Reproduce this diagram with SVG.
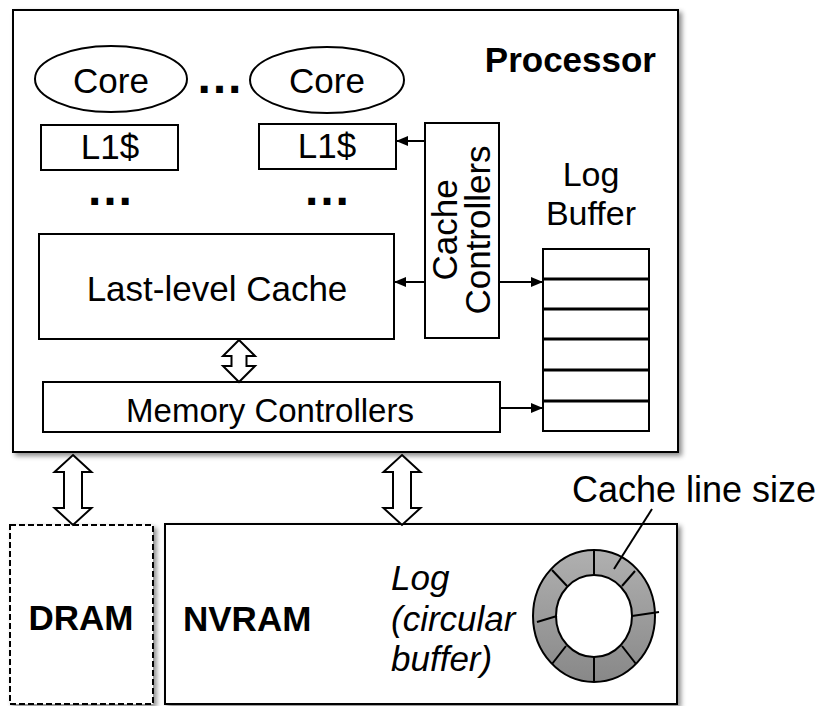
<svg xmlns="http://www.w3.org/2000/svg" width="823" height="706" viewBox="0 0 823 706">
  <defs>
    <filter id="shadow" x="-5%" y="-5%" width="115%" height="115%">
      <feDropShadow dx="3" dy="3" stdDeviation="2.5" flood-color="#000" flood-opacity="0.45"/>
    </filter>
    <marker id="head" viewBox="0 0 12 10" refX="12" refY="5" markerWidth="12" markerHeight="10" markerUnits="userSpaceOnUse" orient="auto">
      <path d="M0,0 L12,5 L0,10 Z" fill="#000"/>
    </marker>
    <linearGradient id="ringFill" x1="0" y1="0" x2="0" y2="1">
      <stop offset="0" stop-color="#b0b0b0"/>
      <stop offset="1" stop-color="#888888"/>
    </linearGradient>
    <style>
      .box { fill: #fff; stroke: #000; stroke-width: 2; }
      .t { font-family: "Liberation Sans", Arial, sans-serif; fill: #000; }
      .c { text-anchor: middle; }
      .b { font-weight: bold; }
      .i { font-style: italic; }
      .link { stroke: #000; stroke-width: 2; fill: none; marker-end: url(#head); }
      .bus { fill: #fff; stroke: #000; stroke-width: 2; stroke-linejoin: miter; }
      .row { stroke: #000; stroke-width: 3; }
      .seg { stroke: #000; stroke-width: 2; }
    </style>
  </defs>

  <!-- processor package -->
  <g id="processor">
    <rect class="box" x="13" y="10" width="665" height="442" filter="url(#shadow)"/>
    <text class="t b" x="656" y="72" font-size="35" text-anchor="end">Processor</text>
  </g>

  <g id="core1">
    <ellipse class="box" cx="111" cy="79" rx="76" ry="33"/>
    <text class="t c" x="111" y="93" font-size="35">Core</text>
  </g>
  <g id="core-dots">
    <text class="t b c" x="219.5" y="93" font-size="48">…</text>
  </g>
  <g id="core2">
    <ellipse class="box" cx="327" cy="80" rx="77" ry="33"/>
    <text class="t c" x="327" y="93" font-size="35">Core</text>
  </g>

  <g id="l1-1">
    <rect class="box" x="41" y="125" width="137" height="45"/>
    <text class="t c" x="110" y="159" font-size="35">L1$</text>
  </g>
  <g id="l1-2">
    <rect class="box" x="259" y="124" width="137" height="45"/>
    <text class="t c" x="327" y="158" font-size="35">L1$</text>
  </g>
  <g id="level-dots">
    <text class="t b c" x="110" y="205" font-size="48">…</text>
    <text class="t b c" x="327" y="205" font-size="48">…</text>
  </g>

  <g id="llc">
    <rect class="box" x="39" y="234" width="355" height="105"/>
    <text class="t c" x="217" y="301" font-size="35">Last-level Cache</text>
  </g>

  <g id="cache-controllers">
    <rect class="box" x="425" y="123" width="74" height="215"/>
    <text class="t c" font-size="35" transform="translate(457,230) rotate(-90)">Cache</text>
    <text class="t c" font-size="35" transform="translate(490,230) rotate(-90)">Controllers</text>
  </g>

  <g id="memory-controllers">
    <rect class="box" x="43" y="382" width="457" height="50"/>
    <text class="t c" x="270" y="422" font-size="33">Memory Controllers</text>
  </g>

  <g id="log-buffer">
    <text class="t c" x="591" y="186" font-size="34">Log</text>
    <text class="t c" x="591" y="225" font-size="34">Buffer</text>
    <rect class="box" x="543" y="249" width="106" height="182"/>
    <line class="row" x1="543" y1="279" x2="649" y2="279"/>
    <line class="row" x1="543" y1="309" x2="649" y2="309"/>
    <line class="row" x1="543" y1="339" x2="649" y2="339"/>
    <line class="row" x1="543" y1="370" x2="649" y2="370"/>
    <line class="row" x1="543" y1="401" x2="649" y2="401"/>
  </g>

  <!-- memory devices -->
  <g id="dram">
    <rect x="10" y="525" width="143" height="179" fill="#fff" stroke="#000" stroke-width="2" stroke-dasharray="6,3" filter="url(#shadow)"/>
    <text class="t b c" x="81" y="630" font-size="35">DRAM</text>
  </g>

  <g id="nvram">
    <rect class="box" x="165" y="524" width="512" height="180" filter="url(#shadow)"/>
    <text class="t b" x="183" y="631" font-size="35">NVRAM</text>
    <text class="t i" x="391" y="590" font-size="35">Log</text>
    <text class="t i" x="391" y="631" font-size="35">(circular</text>
    <text class="t i" x="391" y="671" font-size="35">buffer)</text>
  </g>

  <g id="log-ring">
    <path d="M533,616 a61,66 0 1,0 122,0 a61,66 0 1,0 -122,0 Z M556,616 a38,41 0 1,0 76,0 a38,41 0 1,0 -76,0 Z" fill="url(#ringFill)" fill-rule="evenodd" stroke="#000" stroke-width="2"/>
    <line class="seg" x1="594" y1="550" x2="594" y2="575"/>
    <line class="seg" x1="635" y1="571" x2="622" y2="586"/>
    <line class="seg" x1="632" y1="616" x2="659" y2="612"/>
    <line class="seg" x1="622" y1="646" x2="636" y2="664"/>
    <line class="seg" x1="594" y1="657" x2="594" y2="682"/>
    <line class="seg" x1="566" y1="646" x2="552" y2="664"/>
    <line class="seg" x1="557" y1="616" x2="537" y2="622"/>
    <line class="seg" x1="552" y1="570" x2="567" y2="586"/>
  </g>

  <g id="cache-line-label">
    <text class="t" x="572" y="502" font-size="36">Cache line size</text>
    <line class="seg" x1="652" y1="509" x2="614" y2="569"/>
  </g>

  <!-- connectors -->
  <g id="connectors">
    <line class="link" x1="425" y1="141" x2="396" y2="141"/>
    <line class="link" x1="425" y1="282" x2="394" y2="282"/>
    <line class="link" x1="499" y1="282" x2="543" y2="282"/>
    <line class="link" x1="500" y1="408" x2="543" y2="408"/>
    <path class="bus" d="M239,340 L255,356 L246.5,356 L246.5,366 L255,366 L239,382 L223,366 L231.5,366 L231.5,356 L223,356 Z"/>
    <path class="bus" d="M73,455 L91.5,472 L82,472 L82,508 L91.5,508 L73,525 L54.5,508 L64,508 L64,472 L54.5,472 Z"/>
    <path class="bus" d="M402,455 L420.5,472 L411,472 L411,508 L420.5,508 L402,525 L383.5,508 L393,508 L393,472 L383.5,472 Z"/>
  </g>
</svg>
